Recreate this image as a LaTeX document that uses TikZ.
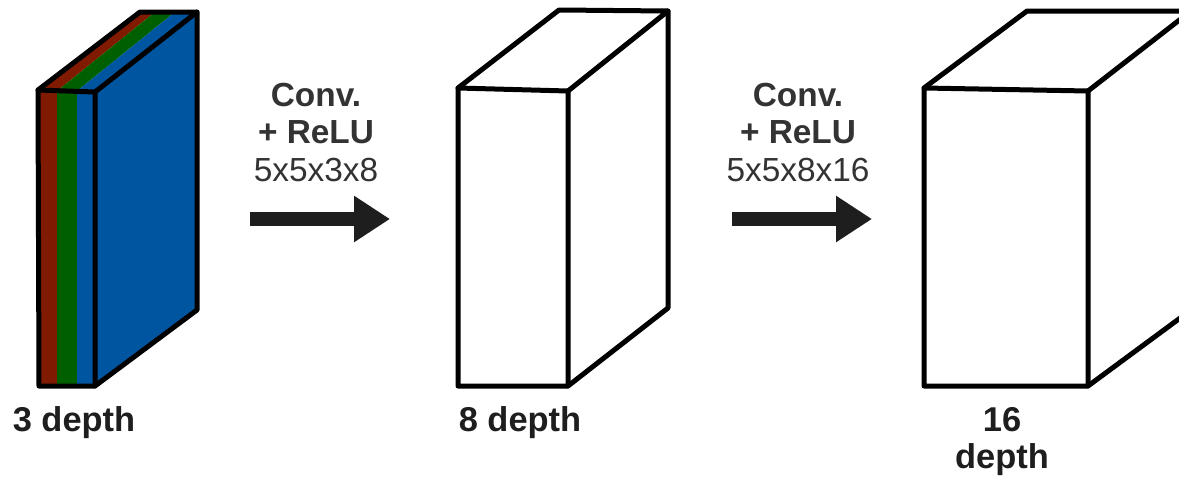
\documentclass[tikz,border=0pt]{standalone}
\usepackage{fontspec}
\setmainfont{Liberation Sans}
\usetikzlibrary{arrows.meta}
\definecolor{cblue}{RGB}{0,85,160}
\definecolor{cred}{RGB}{128,26,0}
\definecolor{cgreen}{RGB}{0,96,0}
\definecolor{ctext}{RGB}{51,51,51}
\definecolor{cdark}{RGB}{30,30,30}
\definecolor{carrow}{RGB}{30,30,30}
\tikzset{
  edge/.style={line width=0.1cm, line join=round, line cap=round, draw=black},
  bigarrow/.style={line width=0.28cm, draw=carrow, -{Triangle[length=0.72cm,width=0.88cm]}},
  lbl/.style={anchor=base, inner sep=0pt, text=ctext, font=\fontsize{19}{22}\selectfont},
  lblb/.style={lbl, font=\bfseries\fontsize{19}{22}\selectfont},
  dlbl/.style={anchor=base, inner sep=0pt, text=cdark, font=\bfseries\fontsize{19.6}{23}\selectfont}
}
\begin{document}
\begin{tikzpicture}[x=0.02cm,y=-0.02cm]
\useasboundingbox (0,0) rectangle (1179,477);
\fill[white] (0,0) rectangle (1179,477);
\clip (0,0) rectangle (1179,477);

% ---------- box 1 (3 channels) ----------
% front face stripes
\fill[cred]   (38,90) -- (57,91) -- (57,386) -- (39,386) -- cycle;
\fill[cgreen] (57,91) -- (77,91) -- (77,386) -- (57,386) -- cycle;
\fill[cblue]  (77,91) -- (95,92) -- (95,386) -- (77,386) -- cycle;
% top face stripes
\fill[cred]   (38,90) -- (140,12) -- (155,12) -- (57,91) -- cycle;
\fill[cgreen] (57,91) -- (155,12) -- (175,12) -- (77,91) -- cycle;
\fill[cblue]  (77,91) -- (175,12) -- (197,12) -- (95,92) -- cycle;
% right face
\fill[cblue]  (95,92) -- (197,12) -- (197,310) -- (95,386) -- cycle;
% edges
\draw[edge] (38,90) -- (95,92) -- (95,386) -- (39,386) -- cycle;
\draw[edge] (38,90) -- (140,12) -- (197,12) -- (95,92);
\draw[edge] (197,12) -- (197,310) -- (95,386);

% ---------- box 2 ----------
\draw[edge] (458,88) -- (568,91) -- (568,386) -- (458,386) -- cycle;
\draw[edge] (458,88) -- (559,10) -- (668,11) -- (568,91);
\draw[edge] (668,11) -- (668,308) -- (568,386);

% ---------- box 3 ----------
\draw[edge] (924,88) -- (1088,91) -- (1088,386) -- (924,386) -- cycle;
\draw[edge] (924,88) -- (1027,11) -- (1191,11) -- (1088,91);
\draw[edge] (1191,11) -- (1191,310) -- (1088,386);

% ---------- arrows ----------
\coordinate (a1s) at (250,219);
\coordinate (a1e) at (390,219);
\coordinate (a2s) at (732,219);
\coordinate (a2e) at (872,219);
\draw[bigarrow] (a1s) -- (a1e);
\draw[bigarrow] (a2s) -- (a2e);

% ---------- labels ----------
\node[lblb] (c1a) at (316,106) {Conv.};
\node[lblb] (c1b) at (316,143) {+ ReLU};
\node[lbl]  (c1c) at (316,181) {5x5x3x8};
\node[lblb] (c2a) at (798,106) {Conv.};
\node[lblb] (c2b) at (798,143) {+ ReLU};
\node[lbl]  (c2c) at (798,181) {5x5x8x16};

\node[dlbl] (d1) at (74,431) {3 depth};
\node[dlbl] (d2) at (520,431) {8 depth};
\node[dlbl] (d3a) at (1002,431) {16};
\node[dlbl] (d3b) at (1002,468) {depth};
\end{tikzpicture}
\end{document}
